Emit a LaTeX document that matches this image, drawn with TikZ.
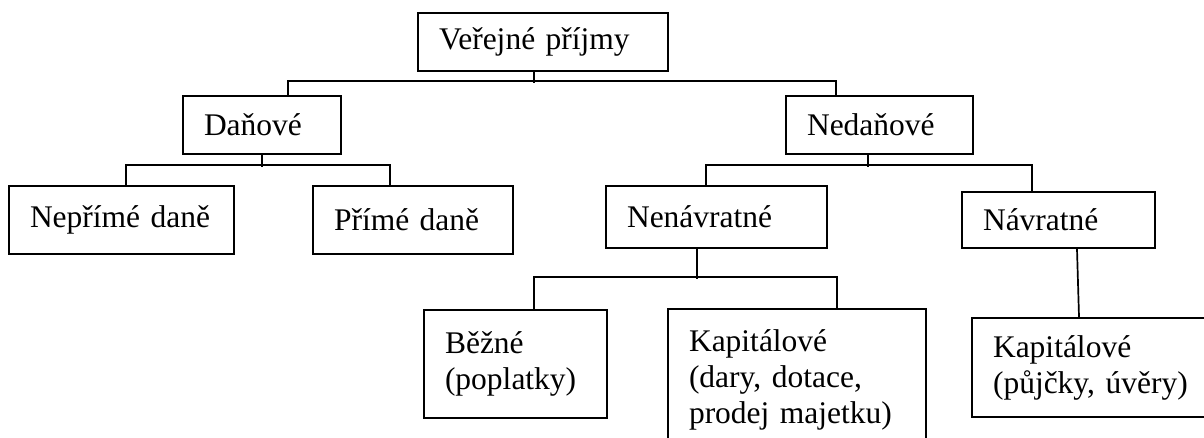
\documentclass[tikz,border=0pt]{standalone}
\usepackage{fontspec}
\setmainfont{Liberation Serif}
\usepackage{tikz}
\usetikzlibrary{calc,positioning}
\tikzstyle{blok}=[draw,line width=2.2pt,align=left,inner xsep=21pt,inner ysep=0pt,font=\fontsize{31.5}{36}\selectfont]
\tikzstyle{spoj}=[line width=1.7pt]

\begin{document}
\begin{tikzpicture}[
            x=1pt,y=1pt
        ]
        \useasboundingbox (0,0) rectangle (1204,-438);
        \node [blok,text width=208pt,minimum height=58pt] (vp)    at (543,-42)     {Veřejné příjmy};
        \node [blok,text width=116pt,minimum height=58pt] (dan)   at (262,-125)    {Daňové};
        \node [blok,text width=145pt,minimum height=58pt] (ned)   at (879.5,-125)  {Nedaňové};
        \node [blok,text width=183pt,minimum height=68pt] (nep)   at (121.5,-220)  {Nepřímé daně};
        \node [blok,text width=158pt,minimum height=68pt] (prim)  at (413,-220)    {Přímé daně};
        \node [blok,text width=179pt,minimum height=62pt] (nenav) at (716.5,-217)  {Nenávratné};
        \node [blok,text width=151pt,minimum height=56pt] (nav)   at (1058.5,-220) {Návratné};
        \node [blok,text width=141pt,minimum height=108pt] (bez)  at (515.5,-364)  {Běžné\\(poplatky)};
        \node [blok,text width=216pt,minimum height=141pt] (kapn) at (797,-379.5)  {Kapitálové\\(dary, dotace,\\prodej majetku)};
        \node [blok,text width=216pt,minimum height=99pt] (kapv)  at (1101,-367.5) {Kapitálové\\(půjčky, úvěry)};
        \draw[spoj] ($(vp.south)+(-9,0)$) -- ($(vp.south)+(-9,-11)$);
        \draw[spoj] ($(dan.north)+(26,0)$) |- ($(ned.north)+(-43.5,14)$) -- ($(ned.north)+(-43.5,0)$);
        \draw[spoj] (dan.south) -- ($(dan.south)+(0,-12)$);
        \draw[spoj] ($(nep.north)+(4.5,0)$) |- ($(prim.north)+(-23,20)$) -- ($(prim.north)+(-23,0)$);
        \draw[spoj] ($(ned.south)+(-11.5,0)$) -- ($(ned.south)+(-11.5,-12)$);
        \draw[spoj] ($(nenav.north)+(-10.5,0)$) |- ($(nav.north)+(-26.5,26)$) -- ($(nav.north)+(-26.5,0)$);
        \draw[spoj] ($(nenav.south)+(-19.5,0)$) -- ($(nenav.south)+(-19.5,-30)$);
        \draw[spoj] ($(bez.north)+(18.5,0)$) |- ($(kapn.north)+(40,31)$) -- ($(kapn.north)+(40,0)$);
        \draw[spoj] ($(nav.south)+(18.5,0)$) -- ($(kapv.north)+(-22,0)$);
    \end{tikzpicture}
\end{document}
